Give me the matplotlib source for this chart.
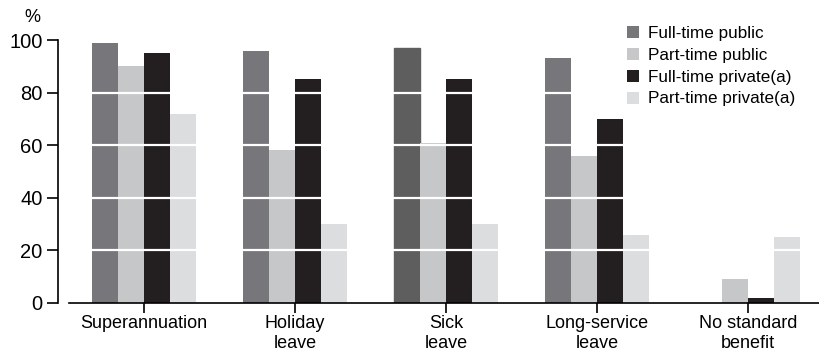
import matplotlib.pyplot as plt
import numpy as np

# data
categories = ['Superannuation', 'Holiday\nleave', 'Sick\nleave', 'Long-service\nleave', 'No standard\nbenefit']
series = ['Full-time public', 'Part-time public', 'Full-time private(a)', 'Part-time private(a)']
ft_public = [99, 96, 97, 93, 0]
pt_public = [90, 58, 61, 56, 9]
ft_private = [95, 85, 85, 70, 2]
pt_private = [72, 30, 30, 26, 25]
yticks = [0, 20, 40, 60, 80, 100]

colors = ['#77777b', '#c6c7c9', '#231f20', '#dcdddf']
values = [ft_public, pt_public, ft_private, pt_private]

plt.rcParams['font.family'] = ['Liberation Sans', 'DejaVu Sans']

fig = plt.figure(figsize=(8.19, 3.56), dpi=100)
ax = fig.add_axes([58 / 819, 53 / 356, 1 - 58 / 819, 263 / 356])

x = np.arange(len(categories))
w = 0.173
for i, (name, vals, c) in enumerate(zip(series, values, colors)):
    bars = ax.bar(x + (i - 1.5) * w, vals, width=w, color=c, label=name, zorder=1)
    if i == 0:
        bars[2].set_color('#5e5e5e')  # sick leave bar is darker in the source

for yv in yticks[1:-1]:
    ax.axhline(yv, color='white', lw=1.6, zorder=2)

ax.set_xlim(-0.57, 4.47)
ax.set_ylim(0, 100)
ax.set_xticks(x)
ax.set_xticklabels(categories, fontsize=13, linespacing=1.2)
ax.set_yticks(yticks)
ax.tick_params(axis='y', labelsize=14.5, length=8, width=1.2, direction='out', pad=3)
ax.tick_params(axis='x', length=7, width=1.2, direction='out', pad=2)

for s in ['top', 'right']:
    ax.spines[s].set_visible(False)
ax.spines['left'].set_linewidth(1.2)
ax.spines['bottom'].set_linewidth(1.2)
ax.spines['left'].set_bounds(0, 100)
ax.spines['bottom'].set_bounds(-0.497, 4.47)

fig.text(32 / 819, 1 - 18 / 356, '%', fontsize=13, ha='center', va='center')

leg = ax.legend(loc='upper left', bbox_to_anchor=(627 / 819, 1 - 26 / 356),
                bbox_transform=fig.transFigure, frameon=False, fontsize=12.3,
                handlelength=0.7, handleheight=0.7, handletextpad=0.55,
                labelspacing=0.4, borderpad=0, borderaxespad=0)

fig.savefig('out.png', dpi=100)
